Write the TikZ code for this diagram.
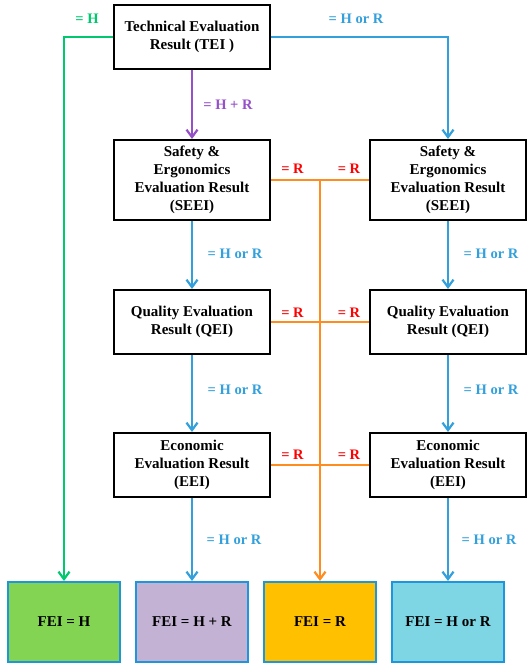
\documentclass[tikz,border=0pt]{standalone}
\usepackage{fontspec}
\setmainfont{Liberation Serif}
\usetikzlibrary{arrows.meta}
\definecolor{cgreen}{RGB}{0,200,110}
\definecolor{cblue}{RGB}{51,160,220}
\definecolor{cpurple}{RGB}{150,80,200}
\definecolor{corange}{RGB}{255,140,30}
\definecolor{cred}{RGB}{255,0,0}
\definecolor{fgreen}{RGB}{130,212,82}
\definecolor{fpurple}{RGB}{195,178,212}
\definecolor{fgold}{RGB}{255,192,0}
\definecolor{fcyan}{RGB}{126,214,228}
\definecolor{fborder}{RGB}{30,150,220}
\tikzset{
  evalbox/.style={draw=black, line width=2pt, fill=white, align=center, inner sep=0pt,
    minimum width=156pt, font=\fontsize{15}{18}\selectfont\bfseries},
  feibox/.style={draw=fborder, line width=2pt, align=center, inner sep=0pt,
    minimum width=112pt, minimum height=80pt, font=\fontsize{15}{18}\selectfont\bfseries},
  lbl/.style={font=\fontsize{14.5}{17}\selectfont\bfseries, inner sep=0pt},
  conn/.style={line width=2.2pt, -{Straight Barb[length=7.5pt,width=11pt]}},
  plain/.style={line width=2.2pt},
}
\begin{document}
\begin{tikzpicture}[x=1pt,y=-1pt]
\useasboundingbox (0,0) rectangle (527,664);
% main boxes
\node[evalbox, minimum height=64pt] (tei) at (192,37) {Technical Evaluation\\Result (TEI )};
\node[evalbox, minimum height=80pt] (seeiL) at (192,180) {Safety \&\\Ergonomics\\Evaluation Result\\(SEEI)};
\node[evalbox, minimum height=80pt] (seeiR) at (448,180) {Safety \&\\Ergonomics\\Evaluation Result\\(SEEI)};
\node[evalbox, minimum height=64pt] (qeiL) at (192,322) {Quality Evaluation\\Result (QEI)};
\node[evalbox, minimum height=64pt] (qeiR) at (448,322) {Quality Evaluation\\Result (QEI)};
\node[evalbox, minimum height=64pt] (eeiL) at (192,465) {Economic\\Evaluation Result\\(EEI)};
\node[evalbox, minimum height=64pt] (eeiR) at (448,465) {Economic\\Evaluation Result\\(EEI)};
% final boxes
\node[feibox, fill=fgreen] (fei1) at (64,622) {FEI = H};
\node[feibox, fill=fpurple] (fei2) at (192,622) {FEI = H + R};
\node[feibox, fill=fgold] (fei3) at (320,622) {FEI = R};
\node[feibox, fill=fcyan] (fei4) at (448,622) {FEI = H or R};
% connectors from TEI
\draw[conn, cgreen] (tei.west) -| (fei1.north);
\draw[conn, cblue] (tei.east) -| (seeiR.north);
\draw[conn, cpurple] (tei.south) -- (seeiL.north);
% left column
\draw[conn, cblue] (seeiL.south) -- (qeiL.north);
\draw[conn, cblue] (qeiL.south) -- (eeiL.north);
\draw[conn, cblue] (eeiL.south) -- (fei2.north);
% right column
\draw[conn, cblue] (seeiR.south) -- (qeiR.north);
\draw[conn, cblue] (qeiR.south) -- (eeiR.north);
\draw[conn, cblue] (eeiR.south) -- (fei4.north);
% orange cross links
\coordinate (oj) at (fei3.north |- seeiL.east);
\draw[plain, corange] (seeiL.east) -- (seeiR.west);
\draw[plain, corange] (qeiL.east) -- (qeiR.west);
\draw[plain, corange] (eeiL.east) -- (eeiR.west);
\draw[conn, corange] (oj) -- (fei3.north);
% labels
\node[lbl, text=cgreen] (l1) at (87,19) {= H};
\node[lbl, text=cblue] (l2) at (356,19) {= H or R};
\node[lbl, text=cpurple] (l3) at (228,105) {= H + R};
\node[lbl, text=cred] (r1) at (292.5,169) {= R};
\node[lbl, text=cred] (r2) at (349,169) {= R};
\node[lbl, text=cred] (r3) at (292.5,313) {= R};
\node[lbl, text=cred] (r4) at (349,313) {= R};
\node[lbl, text=cred] (r5) at (292.5,455) {= R};
\node[lbl, text=cred] (r6) at (349,455) {= R};
\node[lbl, text=cblue] (b1) at (235,254) {= H or R};
\node[lbl, text=cblue] (b2) at (235,390) {= H or R};
\node[lbl, text=cblue] (b3) at (234,540) {= H or R};
\node[lbl, text=cblue] (b4) at (491,254) {= H or R};
\node[lbl, text=cblue] (b5) at (491,390) {= H or R};
\node[lbl, text=cblue] (b6) at (489,540) {= H or R};
\end{tikzpicture}
\end{document}
